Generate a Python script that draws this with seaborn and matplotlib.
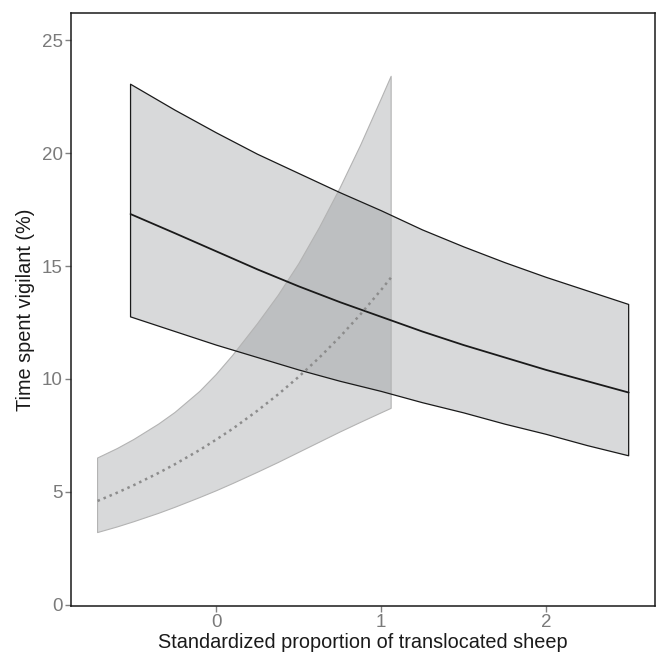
import numpy as np
import pandas as pd
import seaborn as sns
import matplotlib.pyplot as plt

# solid black curve with its confidence band
x_a = [-0.52, -0.25, 0.0, 0.25, 0.5, 0.75, 1.0, 1.25, 1.5, 1.75, 2.0, 2.25, 2.5]
fit_a = [17.3, 16.45, 15.65, 14.85, 14.1, 13.4, 12.75, 12.1, 11.5, 10.95, 10.4, 9.9, 9.4]
upr_a = [23.05, 21.9, 20.9, 19.95, 19.1, 18.25, 17.45, 16.6, 15.85, 15.15, 14.5, 13.9, 13.3]
lwr_a = [12.75, 12.1, 11.5, 10.95, 10.4, 9.9, 9.45, 8.95, 8.5, 8.0, 7.55, 7.05, 6.6]

# dotted grey curve with its confidence band
x_b = [-0.72, -0.6, -0.5, -0.35, -0.25, -0.1, 0.0, 0.1, 0.25, 0.375,
       0.5, 0.625, 0.75, 0.875, 1.0, 1.06]
fit_b = [4.6, 4.97, 5.3, 5.84, 6.23, 6.86, 7.32, 7.8, 8.6, 9.32,
         10.1, 10.95, 11.87, 12.87, 13.95, 14.5]
upr_b = [6.5, 6.92, 7.32, 8.0, 8.52, 9.45, 10.2, 11.05, 12.45, 13.7,
         15.1, 16.7, 18.45, 20.35, 22.4, 23.4]
lwr_b = [3.2, 3.45, 3.68, 4.05, 4.32, 4.75, 5.05, 5.37, 5.87, 6.3,
         6.75, 7.2, 7.65, 8.08, 8.5, 8.7]

xticks = [0, 1, 2]
yticks = [0, 5, 10, 15, 20, 25]

df_a = pd.DataFrame({'x': x_a, 'fit': fit_a, 'upr': upr_a, 'lwr': lwr_a})
df_b = pd.DataFrame({'x': x_b, 'fit': fit_b, 'upr': upr_b, 'lwr': lwr_b})

sns.set_theme(style='white')
plt.rcParams['font.family'] = ['Liberation Sans', 'DejaVu Sans']

fig = plt.figure(figsize=(6.59, 6.53), dpi=100)
ax = fig.add_axes([0.108, 0.072, 0.886, 0.908])

fill_col = '#878a8e'
ax.fill_between(df_a['x'], df_a['lwr'], df_a['upr'], facecolor=fill_col,
                alpha=0.32, edgecolor='none', zorder=1)
ax.fill_between(df_a['x'], df_a['lwr'], df_a['upr'], facecolor='none',
                edgecolor='#1a1a1a', linewidth=0.9, zorder=3)
ax.fill_between(df_b['x'], df_b['lwr'], df_b['upr'], facecolor=fill_col,
                alpha=0.32, edgecolor='none', zorder=2)
ax.fill_between(df_b['x'], df_b['lwr'], df_b['upr'], facecolor='none',
                edgecolor='#b3b3b3', linewidth=0.8, zorder=2)

sns.lineplot(data=df_a, x='x', y='fit', color='#1a1a1a', linewidth=1.3,
             ax=ax, zorder=4)
sns.lineplot(data=df_b, x='x', y='fit', color='#8c8c8c', linewidth=1.8,
             linestyle=(0, (1, 1.6)), ax=ax, zorder=4)

ax.set_xlim(-0.88, 2.66)
ax.set_ylim(-0.05, 26.2)
ax.set_xticks(xticks)
ax.set_yticks(yticks)
ax.set_xlabel('Standardized proportion of translocated sheep', fontsize=14.3,
              color='#1a1a1a', labelpad=1)
ax.set_ylabel('Time spent vigilant (%)', fontsize=14.3, color='#1a1a1a',
              labelpad=5)
ax.tick_params(axis='both', which='major', length=4, width=1,
               color='#808080', labelcolor='#7a7a7a', labelsize=13.5,
               bottom=True, left=True, pad=2)
for s in ax.spines.values():
    s.set_color('#1a1a1a')
    s.set_linewidth(1.1)

fig.savefig('out.png', dpi=100)
